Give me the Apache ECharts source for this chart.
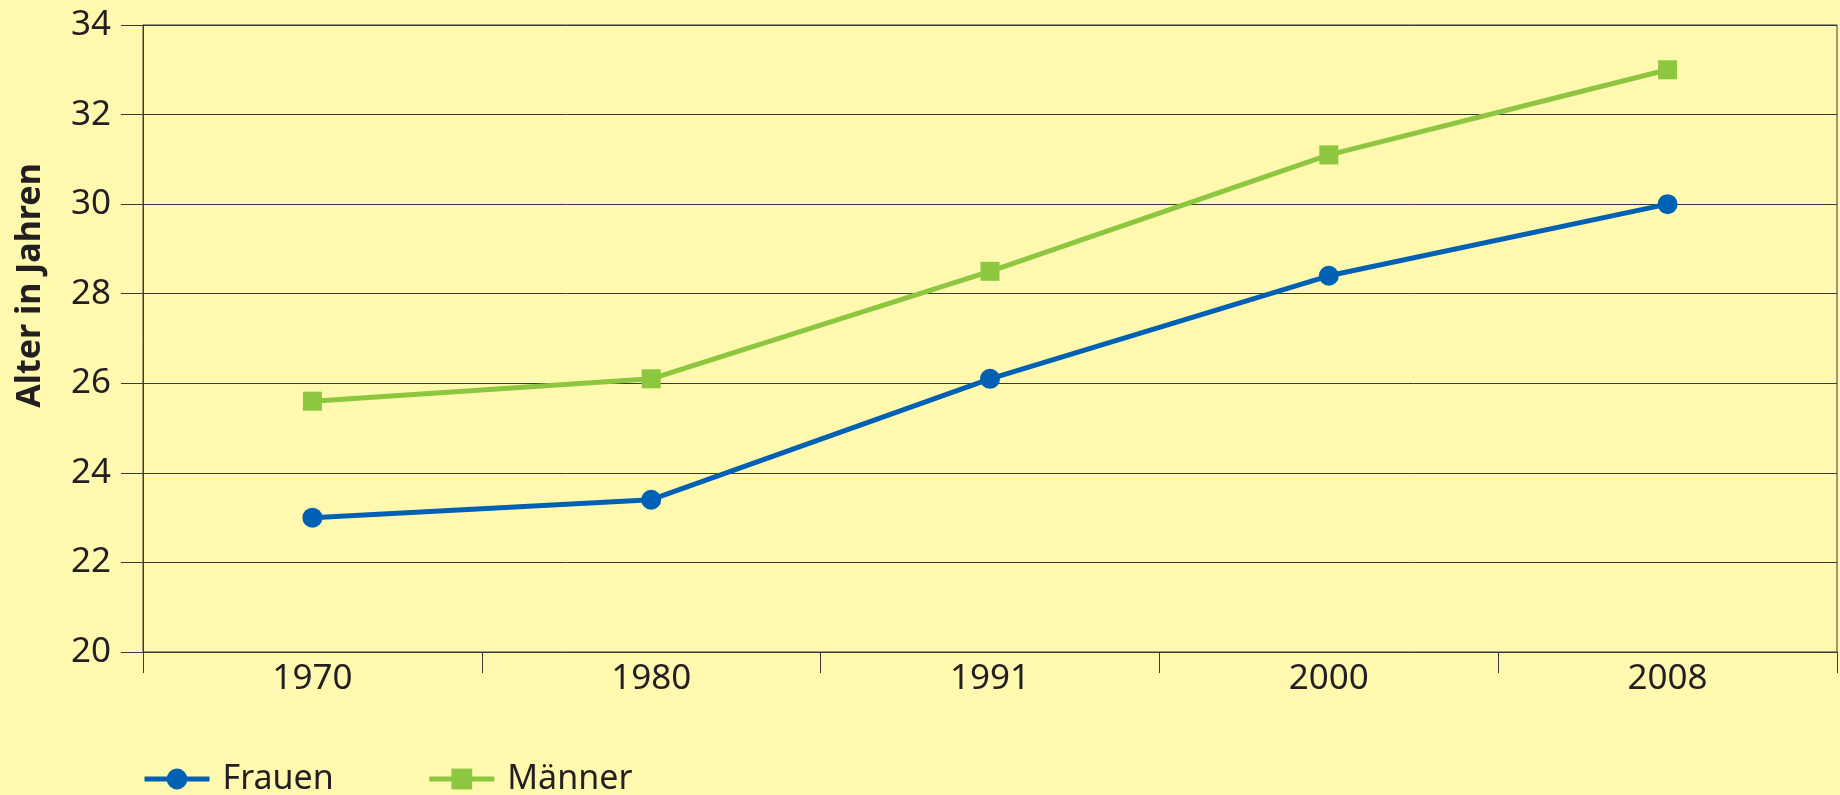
<!DOCTYPE html>
<html>
<head>
<meta charset="utf-8">
<script src="https://cdn.jsdelivr.net/npm/echarts@6/dist/echarts.min.js"></script>
<style>
  html, body { margin: 0; padding: 0; background: #FFF8AF; }
  #chart { width: 1840px; height: 795px; }
</style>
</head>
<body>
<div id="chart"></div>
<script>
const categories = ['1970', '1980', '1991', '2000', '2008'];
const frauen = [23.0, 23.4, 26.1, 28.4, 30.0];
const maenner = [25.6, 26.1, 28.5, 31.1, 33.0];
const seriesNames = ['Frauen', 'Männer'];
const yAxisTitle = 'Alter in Jahren';

const textColor = '#231F20';
const axisColor = '#3A3A3A';
const font = 'Noto Sans';

const chart = echarts.init(document.getElementById('chart'), null, { renderer: 'canvas' });
chart.setOption({
  backgroundColor: '#FFF8AF',
  animation: false,
  textStyle: { fontFamily: font, color: textColor },
  grid: {
    left: 143, right: 3, top: 25, bottom: 143,
    containLabel: false,
    outerBoundsMode: 'none',
    show: true, borderColor: axisColor, borderWidth: 1, backgroundColor: 'transparent'
  },
  legend: {
    left: 137, top: 757,
    itemWidth: 65, itemHeight: 26, itemGap: 93,
    lineStyle: { width: 5 },
    textStyle: { fontFamily: font, fontSize: 34, color: textColor, padding: [0, 0, 0, 8] },
    data: seriesNames
  },
  xAxis: {
    type: 'category',
    data: categories,
    boundaryGap: true,
    axisLine: { show: true, lineStyle: { color: axisColor, width: 1 } },
    axisTick: { show: true, length: 21, lineStyle: { color: axisColor, width: 1 } },
    axisLabel: { fontFamily: font, fontSize: 35, color: textColor, margin: 10 },
    splitLine: { show: false }
  },
  yAxis: {
    type: 'value',
    min: 20, max: 34, interval: 2,
    name: yAxisTitle,
    nameLocation: 'middle',
    nameGap: 96,
    nameRotate: 90,
    nameTextStyle: { fontFamily: font, fontSize: 34, fontWeight: 'bold', color: textColor, padding: [0, 0, 0, 106] },
    axisLine: { show: true, lineStyle: { color: axisColor, width: 1 } },
    axisTick: { show: true, length: 22, lineStyle: { color: axisColor, width: 1 } },
    axisLabel: { fontFamily: font, fontSize: 35, color: textColor, margin: 32 },
    splitLine: { show: true, lineStyle: { color: axisColor, width: 1 } }
  },
  series: [
    {
      name: seriesNames[0],
      type: 'line',
      data: frauen,
      symbol: 'circle',
      symbolSize: 20,
      lineStyle: { color: '#0061B4', width: 5 },
      itemStyle: { color: '#0061B4' },
      z: 3
    },
    {
      name: seriesNames[1],
      type: 'line',
      data: maenner,
      symbol: 'rect',
      symbolSize: 19,
      lineStyle: { color: '#8DC63F', width: 5 },
      itemStyle: { color: '#8DC63F' },
      z: 2
    }
  ]
});
</script>
</body>
</html>
